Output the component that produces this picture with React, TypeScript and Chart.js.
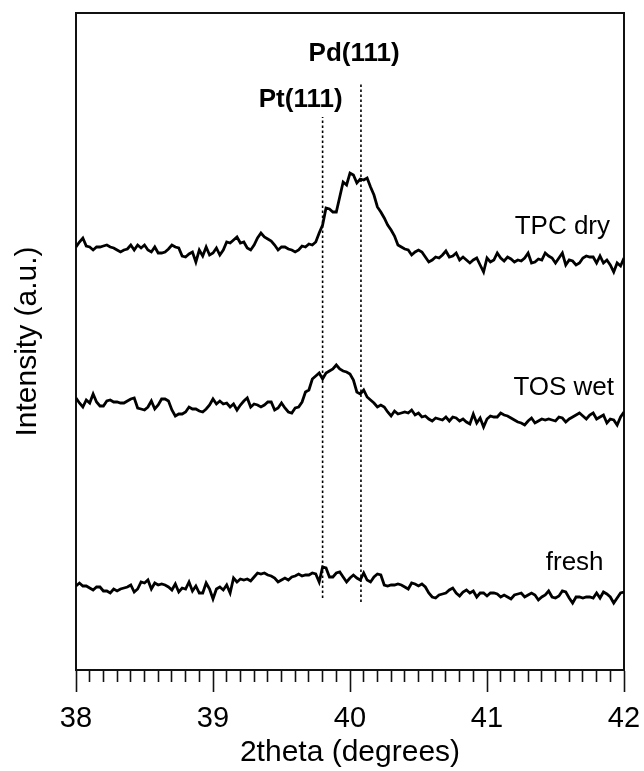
import React, { useEffect, useRef } from 'react';
import { Chart, registerables } from 'chart.js';

Chart.register(...registerables);

// ---------- data ----------
const X_START = 38;
const X_STEP = 0.025;

const SERIES_NAMES = ['TPC dry', 'TOS wet', 'fresh'];

const TPC_DRY = [
  423, 428, 432, 424, 423, 420, 423, 423, 424, 425,
  423, 422, 420, 418, 420, 421, 425, 420, 425, 422,
  425, 420, 418, 423, 417, 417, 418, 421, 425, 423,
  422, 414, 413, 416, 418, 408, 420, 414, 423, 415,
  417, 422, 415, 420, 428, 427, 430, 433, 427, 428,
  422, 420, 425, 432, 437, 433, 431, 429, 425, 420,
  423, 423, 421, 420, 418, 420, 424, 423, 426, 425,
  428, 437, 445, 462, 461, 458, 458, 473, 488, 485,
  497, 495, 487, 491, 490, 492, 483, 475, 463, 458,
  452, 445, 440, 434, 425, 423, 421, 420, 415, 418,
  420, 418, 413, 408, 410, 413, 412, 415, 419, 413,
  414, 417, 410, 413, 410, 407, 410, 412, 405, 398,
  412, 408, 410, 417, 412, 409, 413, 411, 408, 410,
  409, 412, 417, 407, 408, 411, 410, 417, 414, 412,
  407, 412, 417, 405, 410, 409, 405, 407, 412, 414,
  413, 413, 407, 414, 407, 410, 405, 398, 407, 404,
  412,
];

const TOS_WET = [
  272, 267, 263, 270, 267, 276, 268, 264, 264, 269,
  270, 268, 268, 267, 267, 269, 271, 272, 262, 261,
  260, 263, 269, 261, 265, 271, 271, 269, 260, 254,
  256, 256, 258, 263, 261, 261, 259, 258, 261, 265,
  271, 266, 269, 266, 267, 263, 266, 260, 265, 269,
  272, 263, 266, 265, 263, 265, 268, 268, 260, 262,
  267, 262, 258, 257, 262, 263, 268, 278, 280, 291,
  294, 297, 291, 297, 299, 301, 305, 301, 299, 298,
  296, 290, 278, 276, 280, 273, 270, 267, 263, 265,
  263, 258, 254, 259, 256, 257, 258, 257, 260, 255,
  257, 253, 254, 251, 249, 252, 251, 250, 253, 249,
  253, 252, 249, 251, 248, 246, 256, 247, 252, 243,
  251, 254, 253, 253, 257, 255, 254, 252, 250, 248,
  247, 245, 249, 252, 247, 249, 251, 250, 251, 250,
  249, 253, 252, 248, 251, 253, 255, 257, 254, 251,
  255, 257, 251, 253, 255, 247, 251, 250, 245, 253,
  258,
];

const FRESH = [
  84, 87, 84, 84, 82, 80, 83, 83, 79, 79,
  77, 81, 79, 81, 82, 83, 85, 78, 81, 88,
  87, 90, 81, 87, 85, 86, 85, 83, 80, 86,
  78, 82, 81, 88, 79, 84, 77, 77, 87, 81,
  71, 81, 83, 80, 85, 77, 92, 88, 91, 90,
  91, 89, 93, 97, 96, 97, 95, 94, 92, 88,
  90, 92, 90, 93, 94, 96, 94, 95, 95, 97,
  96, 88, 103, 102, 93, 93, 97, 98, 93, 88,
  92, 95, 92, 90, 97, 90, 88, 93, 96, 95,
  85, 84, 85, 85, 86, 85, 83, 81, 87, 86,
  84, 86, 83, 77, 73, 72, 75, 76, 77, 80,
  82, 77, 74, 78, 80, 77, 79, 73, 77, 77,
  74, 77, 77, 76, 73, 75, 73, 71, 75, 76,
  77, 73, 75, 77, 75, 70, 73, 75, 79, 73,
  72, 74, 79, 78, 72, 67, 73, 73, 72, 73,
  73, 72, 77, 72, 78, 76, 73, 67, 72, 77,
  78,
];

// reference peak positions (2theta) and their vertical extents (a.u.)
const PEAK_NAMES = ['Pt(111)', 'Pd(111)'];
const PEAK_POSITIONS = [39.8, 40.08];
const PEAK_BOTTOMS = [72, 68];
const PEAK_TOPS = [553, 588];

// axis ranges and ticks
const X_MIN = 38;
const X_MAX = 42;
const Y_MIN = 0;
const Y_MAX = 657;
const MAJOR_TICKS = [38, 39, 40, 41, 42];
const MINOR_DIVISIONS = 10;

// text annotations (data coordinates)
const ANNOT_TEXT = ['Pd(111)', 'Pt(111)', 'TPC dry', 'TOS wet', 'fresh'];
const ANNOT_X = [40.03, 39.64, 41.55, 41.56, 41.64];
const ANNOT_Y = [616, 570, 443, 282, 107];
const ANNOT_BOLD = [true, true, false, false, false];

const FONT = '"Liberation Sans", Arial, Helvetica, sans-serif';

function toPoints(values: number[]) {
  return values.map((v, i) => ({ x: X_START + i * X_STEP, y: v }));
}

function buildTickValues(): number[] {
  const out: number[] = [];
  for (let m = 0; m < MAJOR_TICKS.length - 1; m++) {
    for (let k = 0; k < MINOR_DIVISIONS; k++) {
      out.push(MAJOR_TICKS[m] + (k * (MAJOR_TICKS[m + 1] - MAJOR_TICKS[m])) / MINOR_DIVISIONS);
    }
  }
  out.push(MAJOR_TICKS[MAJOR_TICKS.length - 1]);
  return out;
}

function isMajor(v: number) {
  return MAJOR_TICKS.some((m) => Math.abs(m - v) < 1e-6);
}

const textPlugin = {
  id: 'textLabels',
  afterDatasetsDraw(chart: any) {
    const { ctx } = chart;
    const xs = chart.scales.x;
    const ys = chart.scales.y;
    ctx.save();
    ctx.fillStyle = '#000';
    ctx.textAlign = 'center';
    ctx.textBaseline = 'middle';
    for (let i = 0; i < ANNOT_TEXT.length; i++) {
      ctx.font = `${ANNOT_BOLD[i] ? 'bold ' : ''}26px ${FONT}`;
      ctx.fillText(ANNOT_TEXT[i], xs.getPixelForValue(ANNOT_X[i]), ys.getPixelForValue(ANNOT_Y[i]));
    }
    ctx.restore();
  },
};

export default function App() {
  const canvasRef = useRef<HTMLCanvasElement | null>(null);

  useEffect(() => {
    if (!canvasRef.current) return;
    Chart.defaults.font.family = FONT;
    Chart.defaults.color = '#000';

    const seriesData = [TPC_DRY, TOS_WET, FRESH];
    const traceSets = seriesData.map((vals, i) => ({
      label: SERIES_NAMES[i],
      data: toPoints(vals),
      borderColor: '#000',
      borderWidth: 2.8,
      pointRadius: 0,
      tension: 0,
      fill: false,
    }));
    const peakSets = PEAK_POSITIONS.map((p, i) => ({
      label: PEAK_NAMES[i],
      data: [
        { x: p, y: PEAK_BOTTOMS[i] },
        { x: p, y: PEAK_TOPS[i] },
      ],
      borderColor: '#000',
      borderWidth: 1.6,
      borderDash: [2.5, 2.5],
      pointRadius: 0,
      fill: false,
    }));

    const tickValues = buildTickValues();
    const borderStyle = { display: true, color: '#111', width: 2 };

    const chart = new Chart(canvasRef.current, {
      type: 'line',
      data: { datasets: [...traceSets, ...peakSets] as any },
      options: {
        animation: false,
        responsive: false,
        events: [],
        layout: { padding: 0 },
        plugins: {
          legend: { display: false },
          tooltip: { enabled: false },
        },
        scales: {
          x: {
            type: 'linear',
            position: 'bottom',
            min: X_MIN,
            max: X_MAX,
            afterBuildTicks: (scale: any) => {
              scale.ticks = tickValues.map((v) => ({ value: v }));
            },
            afterFit: (scale: any) => {
              scale.height = 101;
              scale.paddingLeft = 0;
              scale.paddingRight = 0;
            },
            ticks: {
              autoSkip: false,
              maxRotation: 0,
              minRotation: 0,
              padding: 10,
              color: '#000',
              font: { size: 29 },
              callback: (v: any) => (isMajor(Number(v)) ? String(Math.round(Number(v))) : ''),
            },
            grid: {
              drawOnChartArea: false,
              drawTicks: true,
              tickLength: 22,
              tickWidth: 1.6,
              tickColor: '#111',
              tickBorderDash: (ctx: any) => (ctx.tick && isMajor(ctx.tick.value) ? [] : [11, 40]),
            },
            border: borderStyle,
            title: {
              display: true,
              text: '2theta (degrees)',
              color: '#000',
              font: { size: 30 },
              padding: { top: 0, bottom: 0 },
            },
          },
          x2: {
            type: 'linear',
            position: 'top',
            display: true,
            min: X_MIN,
            max: X_MAX,
            afterFit: (scale: any) => {
              scale.height = 13;
              scale.paddingLeft = 0;
              scale.paddingRight = 0;
            },
            ticks: { display: false },
            grid: { drawOnChartArea: false, drawTicks: false },
            border: borderStyle,
          },
          y: {
            type: 'linear',
            position: 'left',
            min: Y_MIN,
            max: Y_MAX,
            afterFit: (scale: any) => {
              scale.width = 76;
              scale.paddingTop = 0;
              scale.paddingBottom = 0;
            },
            ticks: { display: false },
            grid: { drawOnChartArea: false, drawTicks: false },
            border: borderStyle,
            title: {
              display: true,
              text: 'Intensity (a.u.)',
              color: '#000',
              font: { size: 30 },
              padding: { top: 10, bottom: 0 },
            },
          },
          y2: {
            type: 'linear',
            position: 'right',
            display: true,
            min: Y_MIN,
            max: Y_MAX,
            afterFit: (scale: any) => {
              scale.width = 20;
              scale.paddingTop = 0;
              scale.paddingBottom = 0;
            },
            ticks: { display: false },
            grid: { drawOnChartArea: false, drawTicks: false },
            border: borderStyle,
          },
        },
      } as any,
      plugins: [textPlugin],
    });

    return () => chart.destroy();
  }, []);

  return (
    <div style={{ position: 'fixed', left: 0, top: 0, width: 644, height: 771, background: '#fff' }}>
      <canvas ref={canvasRef} width={644} height={771} />
    </div>
  );
}
